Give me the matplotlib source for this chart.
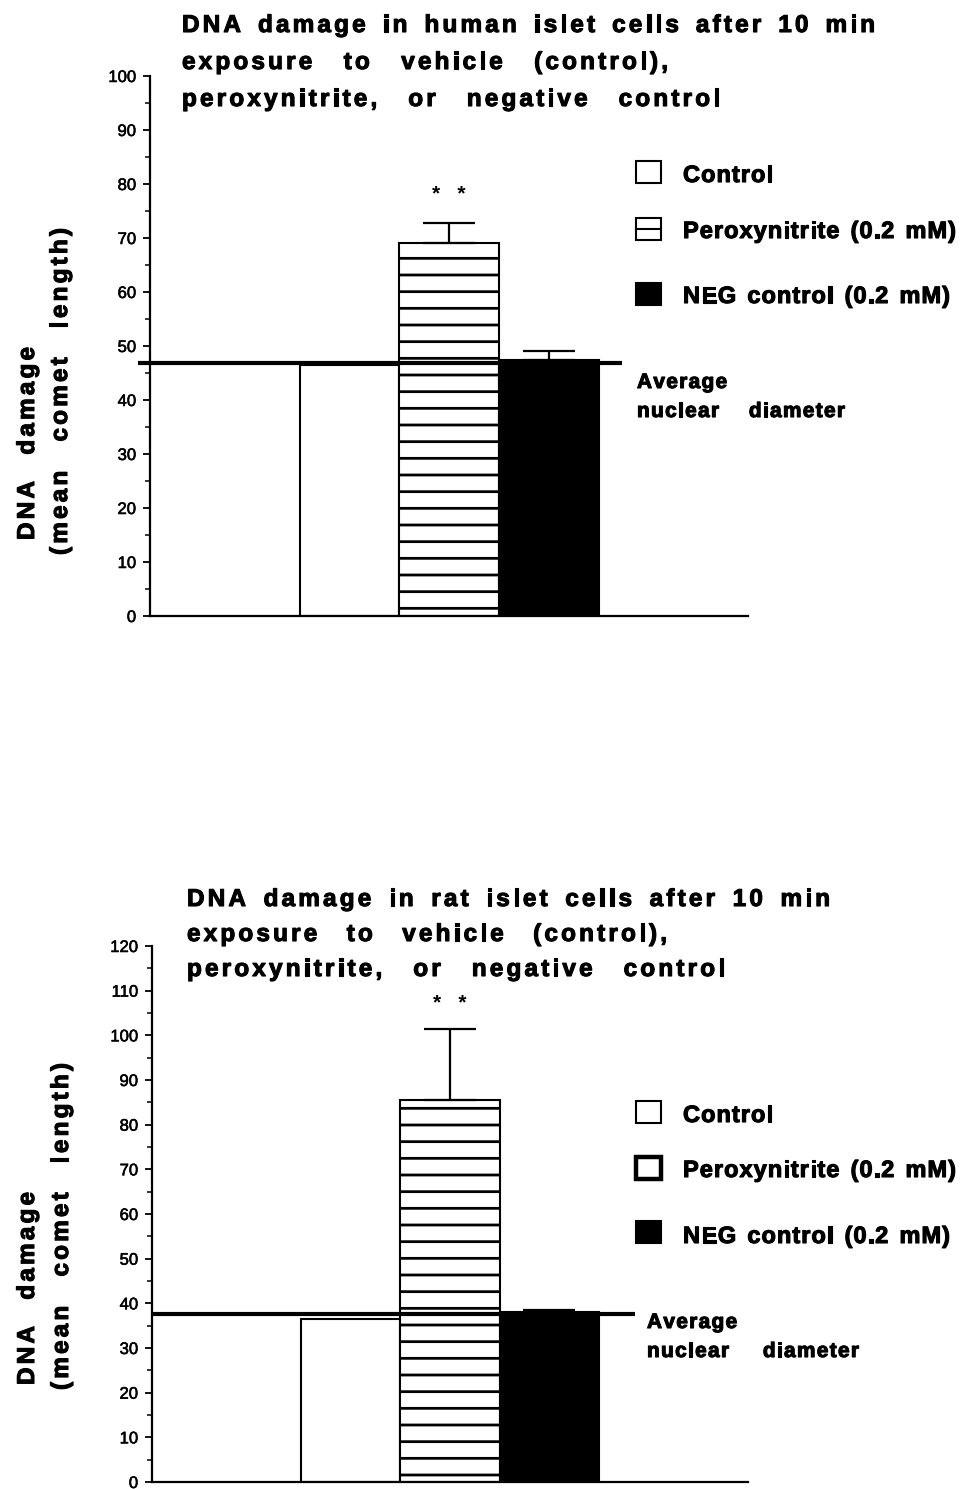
import numpy as np
import matplotlib
matplotlib.use("Agg")
import matplotlib.pyplot as plt
import matplotlib.patheffects as pe
from matplotlib.patches import Rectangle
from matplotlib.lines import Line2D
from matplotlib.ticker import MultipleLocator
from matplotlib.font_manager import FontProperties, findfont, get_font

# values
groups = ["Control", "Peroxynitrite (0.2 mM)", "NEG control (0.2 mM)"]
human_mean = [46.5, 69.0, 47.5]
human_err = [0.0, 3.7, 1.5]
rat_mean = [36.4, 85.5, 38.0]
rat_err = [0.0, 16.0, 0.6]
human_nuclear = 46.8
rat_nuclear = 37.6

human_title = ["DNA damage in human islet cells after 10 min",
               "exposure to vehicle (control),",
               "peroxynitrite, or negative control"]
rat_title = ["DNA damage in rat islet cells after 10 min",
             "exposure to vehicle (control),",
             "peroxynitrite, or negative control"]
ylabel_lines = ["DNA damage", "(mean comet length)"]
nuclear_label = ["Average", "nuclear diameter"]

W, H = 960, 1489
plt.rcParams["font.family"] = ["Liberation Sans", "DejaVu Sans"]
plt.rcParams["hatch.linewidth"] = 2.0
fig = plt.figure(figsize=(W / 100, H / 100), dpi=100)
thick = [pe.withStroke(linewidth=0.8, foreground="black")]


def char_adv(s, fp):
    font = get_font(findfont(fp))
    font.set_size(fp.get_size_in_points(), 100)
    return [font.load_char(ord(c)).linearHoriAdvance / 65536 for c in s]


def spaced(s, sx, sy, size, track=3.2, length=None, vertical=False):
    # letter-spaced bold text in pixel coords (y from top), words justified to length
    fp = FontProperties(family="Liberation Sans", weight="bold", size=size)
    words = s.split()
    advs = [char_adv(w, fp) for w in words]
    widths = [sum(a) + track * (len(a) - 1) for a in advs]
    gap = char_adv(" ", fp)[0] + 2 * track
    if length is not None and len(words) > 1:
        gap = (length - sum(widths)) / (len(words) - 1)
    pos = 0.0
    for a, w in zip(advs, words):
        for c, d in zip(w, a):
            if vertical:
                x, y, rot = sx, sy - pos, 90
            else:
                x, y, rot = sx + pos, sy, 0
            fig.text(x / W, 1 - y / H, c, fontproperties=fp, rotation=rot,
                     rotation_mode="anchor", ha="left", va="baseline",
                     path_effects=thick)
            pos += d + track
        pos += gap - track


def panel(ax, means, errs, nuclear, ymax, line_start, line_end):
    x = np.arange(2, 5)
    bars = ax.bar(x, means, width=1.0, color=["white", "white", "black"],
                  edgecolor="black", linewidth=1.5, zorder=2)
    bars[1].set_hatch("-")
    ax.errorbar(x[1:], means[1:], yerr=[[0, 0], errs[1:]], fmt="none",
                ecolor="black", elinewidth=1.6, capsize=19, capthick=1.6, zorder=3)
    ax.plot([line_start, line_end], [nuclear, nuclear], color="black", lw=3,
            clip_on=False, zorder=5, solid_capstyle="butt")
    top = means[1] + errs[1]
    ax.text(3, top + 4.4, "*   *", ha="center", va="baseline", fontsize=15,
            fontweight="bold")
    ax.set_xlim(0, 6)
    ax.set_ylim(0, ymax)
    ax.set_xticks([])
    ax.set_yticks(range(0, ymax + 1, 10))
    ax.yaxis.set_minor_locator(MultipleLocator(5))
    ax.tick_params(axis="y", which="major", length=5, width=1.3, labelsize=12, pad=5)
    ax.tick_params(axis="y", which="minor", length=3.5, width=1.1)
    for lab in ax.get_yticklabels():
        lab.set_path_effects([pe.withStroke(linewidth=0.4, foreground="black")])
    for side in ["top", "right"]:
        ax.spines[side].set_visible(False)
    for side in ["left", "bottom"]:
        ax.spines[side].set_linewidth(1.6)


def legend_box(x, y, w, h, style):
    kw = dict(transform=fig.transFigure, edgecolor="black", zorder=3)
    fc = "black" if style == "black" else "white"
    lw = 3.2 if style == "thick" else 1.5
    fig.add_artist(Rectangle((x / W, 1 - (y + h) / H), w / W, h / H,
                             facecolor=fc, lw=lw, **kw))
    if style == "split":
        fig.add_artist(Line2D([x / W, (x + w) / W], [1 - (y + h / 2) / H] * 2,
                              transform=fig.transFigure, color="black", lw=1.5,
                              zorder=4))


# ---- top panel: human islets
ax1 = fig.add_axes([150 / W, 1 - 616 / H, 598 / W, (616 - 76) / H])
panel(ax1, human_mean, human_err, human_nuclear, 100, -0.12, 4.74)

title_ends = [875, 668, 720]
for i, (line, end) in enumerate(zip(human_title, title_ends)):
    spaced(line, 182, 32 + 37 * i, 17.5, length=end - 182)

spaced(ylabel_lines[0], 34, 540, 17.5, length=193, vertical=True)
spaced(ylabel_lines[1], 67, 555, 17.5, length=327, vertical=True)

styles_top = ["white", "split", "black"]
box_tops = [161, 218, 283]
text_base = [182, 238, 303]
text_ends = [776, 956, 950]
for lab, st, bt, tb, te in zip(groups, styles_top, box_tops, text_base, text_ends):
    legend_box(636, bt, 25, 22, st)
    spaced(lab, 683, tb, 17, track=1.0, length=te - 683 if " " in lab else None)

spaced(nuclear_label[0], 637, 388, 15, track=1.3)
spaced(nuclear_label[1], 637, 417, 15, track=1.3, length=208)

# ---- bottom panel: rat islets
ax2 = fig.add_axes([152 / W, 1 - 1482 / H, 596 / W, (1482 - 946) / H])
panel(ax2, rat_mean, rat_err, rat_nuclear, 120, 0.0, 4.86)

title_ends = [830, 667, 725]
for i, (line, end) in enumerate(zip(rat_title, title_ends)):
    spaced(line, 187, 906 + 35 * i, 17.5, length=end - 187)

spaced(ylabel_lines[0], 34, 1385, 17.5, length=193, vertical=True)
spaced(ylabel_lines[1], 68, 1390, 17.5, length=327, vertical=True)

styles_bot = ["white", "thick", "black"]
box_tops = [1101, 1157, 1221]
text_base = [1122, 1177, 1243]
for lab, st, bt, tb, te in zip(groups, styles_bot, box_tops, text_base, text_ends):
    legend_box(636, bt, 25, 22, st)
    spaced(lab, 683, tb, 17, track=1.0, length=te - 683 if " " in lab else None)

spaced(nuclear_label[0], 647, 1328, 15, track=1.3)
spaced(nuclear_label[1], 647, 1357, 15, track=1.3, length=212)

fig.savefig("out.png", dpi=100, facecolor="white")
